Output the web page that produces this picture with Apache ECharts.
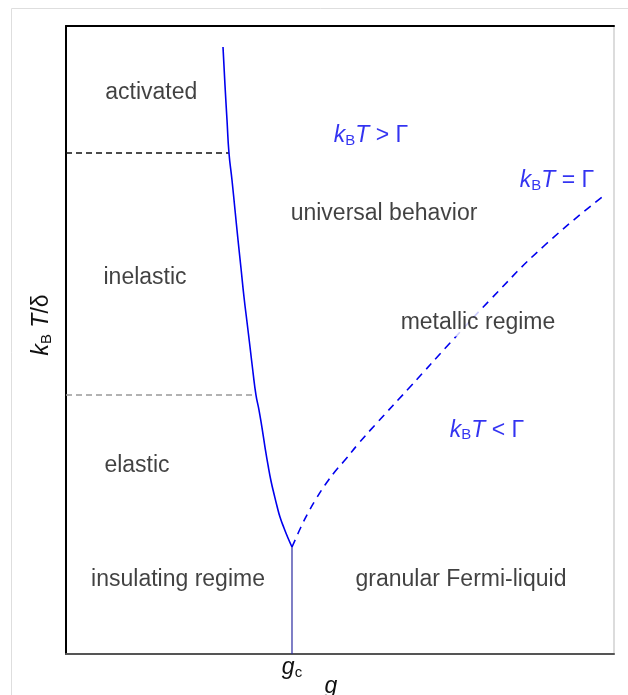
<!DOCTYPE html>
<html>
<head>
<meta charset="utf-8">
<script src="https://cdn.jsdelivr.net/npm/echarts@6/dist/echarts.min.js"></script>
<style>
  html, body { margin: 0; padding: 0; background: #fff; }
  #chart { width: 628px; height: 695px; }
</style>
</head>
<body>
<div id="chart"></div>
<script>
// Phase diagram of a granular metal: temperature kBT/δ against coupling g (arbitrary units 0..100)
const gc = 41.24;
const gcTemp = 17.04;

// Insulator crossover boundary (solid), rising from the critical point
const insulatorBoundary = [
  [41.24, 17.04], [40.51, 18.47], [39.78, 20.06], [39.05, 21.82], [38.50, 23.57],
  [37.96, 25.48], [37.41, 27.55], [36.86, 30.10], [36.31, 32.96], [35.77, 35.99],
  [35.22, 38.85], [34.67, 41.24], [34.12, 44.90], [33.58, 48.89], [33.03, 52.87],
  [32.48, 56.85], [31.93, 61.46], [31.39, 65.92], [30.84, 70.70], [30.29, 75.48],
  [29.74, 79.78], [29.38, 85.03], [29.01, 90.61], [28.65, 96.66]
];

// kBT = Γ crossover (dashed)
const gammaLine = [
  [41.24, 17.04], [41.97, 18.47], [42.88, 20.22], [44.16, 22.45], [45.62, 24.68],
  [47.26, 26.91], [49.09, 29.06], [50.91, 30.89], [53.47, 33.60], [56.39, 36.46],
  [62.77, 42.52], [70.07, 49.52], [77.37, 56.37], [87.41, 65.13], [98.54, 73.25]
];

// Quantum-critical line at g = gc
const criticalLine = [[gc, 0], [gc, gcTemp]];

// Boundaries between activated / inelastic / elastic hopping
const activatedEdge = [[0, 79.78], [29.74, 79.78]];
const elasticEdge = [[0, 41.24], [34.67, 41.24]];

// Region names
const regionLabels = [
  { text: 'activated', at: [15.56, 89.33] },
  { text: 'inelastic', at: [14.42, 59.87] },
  { text: 'elastic', at: [12.96, 29.94] },
  { text: 'insulating regime', at: [20.44, 11.78] },
  { text: 'universal behavior', at: [58.03, 70.06] },
  { text: 'metallic regime', at: [75.18, 52.71] },
  { text: 'granular Fermi-liquid', at: [72.08, 11.78] }
];

// Energy-scale comparisons
const scaleLabels = [
  { rel: '>', at: [55.66, 82.48] },
  { rel: '=', at: [89.6, 75.32] },
  { rel: '<', at: [76.82, 35.63] }
];

const BLUE = '#0000ee';
const TEXT = '#111';
const FONT = '"Liberation Sans", Arial, sans-serif';
const FS = 23;
const SUB = 15;

const chart = echarts.init(document.getElementById('chart'), null, { renderer: 'canvas' });

function richSet(color) {
  return {
    i: { fontFamily: FONT, fontStyle: 'italic', fontSize: FS, color: color },
    n: { fontFamily: FONT, fontSize: FS, color: color },
    s: { fontFamily: FONT, fontSize: SUB, color: color, padding: [10, 0, 0, 0] }
  };
}

chart.setOption({
  animation: false,
  backgroundColor: '#fff',
  graphic: [{
    type: 'rect',
    shape: { x: 11.5, y: 8.5, width: 700, height: 700 },
    style: { fill: 'none', stroke: '#dedede', lineWidth: 1 },
    silent: true
  }],
  grid: { left: 66, right: 14, top: 26, bottom: 41, containLabel: false, outerBoundsMode: 'none' },
  xAxis: [{
    type: 'value', min: 0, max: 100, position: 'bottom',
    axisLine: { show: true, onZero: false, lineStyle: { color: '#555', width: 2 } },
    axisTick: { show: false },
    splitLine: { show: false },
    axisLabel: {
      customValues: [gc],
      margin: 1,
      formatter: () => '{i|g}{s|c}',
      rich: richSet(TEXT)
    },
    name: 'g', nameLocation: 'middle', nameGap: 21, nameMoveOverlap: false,
    nameTextStyle: { fontFamily: FONT, fontStyle: 'italic', fontSize: FS, color: TEXT, padding: [0, 18, 0, 0] }
  }, {
    type: 'value', min: 0, max: 100, position: 'top',
    axisLine: { show: true, onZero: false, lineStyle: { color: '#000', width: 2 } },
    axisTick: { show: false }, axisLabel: { show: false }, splitLine: { show: false }
  }],
  yAxis: [{
    type: 'value', min: 0, max: 100, position: 'left',
    axisLine: { show: true, onZero: false, lineStyle: { color: '#000', width: 2 } },
    axisTick: { show: false }, axisLabel: { show: false }, splitLine: { show: false },
    name: '{i|k}{s|B}{i| T}{n|/δ}', nameLocation: 'middle', nameGap: 12, nameRotate: 90,
    nameMoveOverlap: false,
    nameTextStyle: {
      padding: [0, 0, 0, 30],
      rich: richSet(TEXT)
    }
  }, {
    type: 'value', min: 0, max: 100, position: 'right',
    axisLine: { show: true, onZero: false, lineStyle: { color: '#dcdcdc', width: 2 } },
    axisTick: { show: false }, axisLabel: { show: false }, splitLine: { show: false }
  }],
  series: [
    {
      type: 'line', data: activatedEdge, showSymbol: false,
      lineStyle: { color: '#111', width: 1.3, type: [6, 4] }, z: 2
    },
    {
      type: 'line', data: elasticEdge, showSymbol: false,
      lineStyle: { color: '#999', width: 1.3, type: [6, 4] }, z: 2
    },
    {
      type: 'line', data: criticalLine, showSymbol: false,
      lineStyle: { color: '#2a2aa0', width: 1.2 }, z: 3
    },
    {
      type: 'line', data: insulatorBoundary, showSymbol: false, smooth: true,
      lineStyle: { color: BLUE, width: 1.6 }, z: 3
    },
    {
      type: 'line', data: gammaLine, showSymbol: false, smooth: true,
      lineStyle: { color: BLUE, width: 1.6, type: [8, 6] }, z: 3
    },
    {
      type: 'scatter', symbolSize: 1, itemStyle: { color: 'rgba(0,0,0,0)' }, z: 5,
      data: regionLabels.map(d => ({ value: d.at, name: d.text })),
      label: {
        show: true, position: 'inside', formatter: p => p.name,
        fontFamily: FONT, fontSize: FS, color: TEXT,
        backgroundColor: '#fff', padding: [2, 3]
      }
    },
    {
      type: 'scatter', symbolSize: 1, itemStyle: { color: 'rgba(0,0,0,0)' }, z: 5,
      data: scaleLabels.map(d => ({ value: d.at, name: d.rel })),
      label: {
        show: true, position: 'inside',
        formatter: p => '{i|k}{s|B}{i|T}{n| ' + p.name + ' Γ}',
        rich: richSet(BLUE)
      }
    }
  ]
});
</script>
</body>
</html>
